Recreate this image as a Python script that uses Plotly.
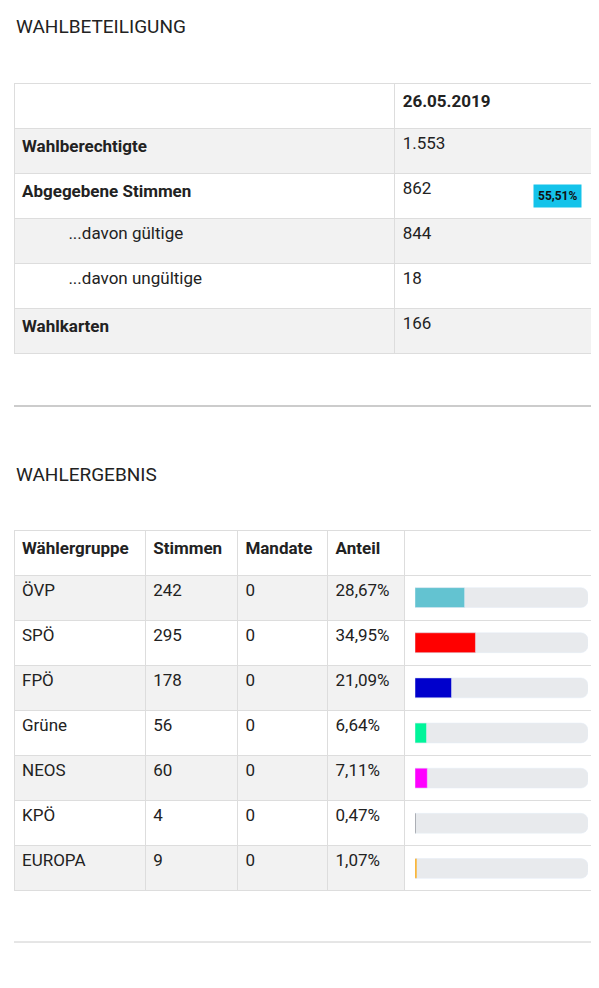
import plotly.graph_objects as go

W, H = 599, 988
FONT = "Liberation Sans Narrow, Roboto, sans-serif"

# Wahlbeteiligung
beteiligung_labels = ["Wahlberechtigte", "Abgegebene Stimmen", "...davon gültige", "...davon ungültige", "Wahlkarten"]
beteiligung_werte = ["1.553", "862", "844", "18", "166"]
beteiligung_datum = "26.05.2019"
beteiligung_quote = "55,51%"

# Wahlergebnis
parteien = ["ÖVP", "SPÖ", "FPÖ", "Grüne", "NEOS", "KPÖ", "EUROPA"]
stimmen = [242, 295, 178, 56, 60, 4, 9]
mandate = [0, 0, 0, 0, 0, 0, 0]
anteil = [28.67, 34.95, 21.09, 6.64, 7.11, 0.47, 1.07]
farben = ["#63c3d1", "#ff0000", "#0000cc", "#00f59a", "#ff00ff", "#555555", "#ffa500"]


def py(px):
    return 1 - px / H


def px_x(px):
    return px / W


def stripes(n, first_gray=True):
    return ["#f2f2f2" if (i % 2 == 0) == first_gray else "white" for i in range(n)]


fig = go.Figure()

# table 1
lab = []
for l in beteiligung_labels:
    if l.startswith("..."):
        lab.append("\u00a0" * 11 + l)
    else:
        lab.append("<b>" + l + "</b>")
fill1 = stripes(len(lab))
fig.add_trace(go.Table(
    domain=dict(x=[px_x(6), px_x(592)], y=[py(348), py(75)]),
    columnwidth=[380, 205],
    header=dict(values=["", "<b>" + beteiligung_datum + "</b>"], height=45,
                fill_color="white", line=dict(color="#dddddd", width=1),
                align="left", font=dict(family=FONT, size=17, color="#222")),
    cells=dict(values=[lab, beteiligung_werte], height=45,
               fill_color=[fill1, fill1], line=dict(color="#dddddd", width=1),
               align="left", font=dict(family=FONT, size=17, color="#222")),
))

# table 2
fill2 = stripes(len(parteien))
fig.add_trace(go.Table(
    domain=dict(x=[px_x(6), px_x(592)], y=[py(884), py(522)]),
    columnwidth=[131, 92, 90, 77, 195],
    header=dict(values=["<b>Wählergruppe</b>", "<b>Stimmen</b>", "<b>Mandate</b>", "<b>Anteil</b>", ""],
                height=45, fill_color="white", line=dict(color="#dddddd", width=1),
                align="left", font=dict(family=FONT, size=17, color="#222")),
    cells=dict(values=[parteien, stimmen, mandate,
                       [f"{a:.2f}".replace(".", ",") + "%" for a in anteil],
                       [""] * len(parteien)],
               height=45, fill_color=[fill2] * 4 + [["rgba(0,0,0,0)"] * len(parteien)],
               line=dict(color="#dddddd", width=1),
               align="left", font=dict(family=FONT, size=17, color="#222")),
))

# bars
fig.add_trace(go.Bar(y=parteien, x=[100] * len(parteien), orientation="h",
                     marker=dict(color="#e8eaed"), width=0.44, hoverinfo="skip"))
fig.add_trace(go.Bar(y=parteien, x=anteil, orientation="h",
                     marker=dict(color=farben), width=0.44))

fig.update_layout(
    width=W, height=H, margin=dict(l=0, r=0, t=0, b=0),
    paper_bgcolor="white", plot_bgcolor="rgba(0,0,0,0)",
    showlegend=False, barmode="overlay", barcornerradius=7,
    xaxis=dict(domain=[px_x(407), px_x(580)], range=[0, 100], visible=False, fixedrange=True),
    yaxis=dict(domain=[py(883), py(567)], autorange="reversed", visible=False,
               categoryorder="array", categoryarray=parteien, range=[6.5, -0.5]),
    font=dict(family=FONT),
    annotations=[
        dict(text="WAHLBETEILIGUNG", x=px_x(6), y=py(18), xref="paper", yref="paper",
             xanchor="left", yanchor="middle", showarrow=False,
             font=dict(family=FONT, size=19, color="#222")),
        dict(text="WAHLERGEBNIS", x=px_x(6), y=py(466), xref="paper", yref="paper",
             xanchor="left", yanchor="middle", showarrow=False,
             font=dict(family=FONT, size=19, color="#222")),
        dict(text="<b>" + beteiligung_quote + "</b>", x=px_x(549), y=py(188), xref="paper", yref="paper",
             xanchor="center", yanchor="middle", showarrow=False, bgcolor="#14c3ea",
             borderpad=4, font=dict(family=FONT, size=12, color="#111")),
    ],
    shapes=[
        dict(type="line", xref="paper", yref="paper", x0=px_x(6), x1=px_x(592), y0=py(398), y1=py(398),
             line=dict(color="#cccccc", width=2)),
        dict(type="line", xref="paper", yref="paper", x0=px_x(6), x1=px_x(592), y0=py(934), y1=py(934),
             line=dict(color="#cccccc", width=1)),
    ],
)

fig.write_html("out.html")
